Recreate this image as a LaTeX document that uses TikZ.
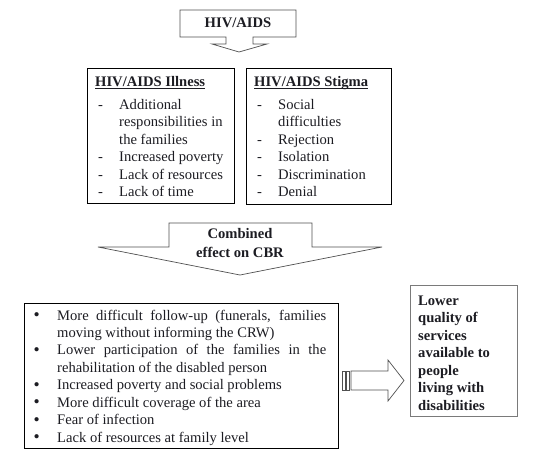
\documentclass[tikz,border=0pt]{standalone}
\usepackage{fontspec}
\setmainfont{Liberation Serif}
\definecolor{ink}{HTML}{1C1C22}
\definecolor{edgegray}{HTML}{505050}
\definecolor{lightedge}{HTML}{7A7A7A}
\begin{document}
\begin{tikzpicture}[x=1pt,y=-1pt,
  txt/.style={inner sep=0pt, anchor=base west, font=\fontsize{14.6pt}{17.5pt}\selectfont, text=ink},
  btxt/.style={txt, font=\fontsize{14.6pt}{17.5pt}\selectfont\bfseries},
  bul/.style={txt, font=\fontsize{17.5pt}{17.5pt}\selectfont},
  box/.style={draw=black, line width=0.8pt, anchor=north west, inner sep=0pt},
  blk/.style={draw=edgegray, line width=0.7pt, fill=white, line join=miter},
  ul/.style={draw=ink, line width=0.7pt}]
\useasboundingbox (0,0) rectangle (535,466);

% top arrow box
\draw[blk] (180,10) -- (296,10) -- (296,37) -- (253,37) -- (253,44) -- (267,44) -- (239,52)
  -- (212,44) -- (226,44) -- (226,37) -- (180,37) -- cycle;
\node[btxt, anchor=base] (hiv) at (238,27) {HIV/AIDS};

% two boxes
\node[box, minimum width=147pt, minimum height=135pt] (ill) at (87,68) {};
\node[box, minimum width=145pt, minimum height=136pt] (stig) at (246,68) {};

\node[btxt] (h1) at (95,86) {HIV/AIDS Illness};
\draw[ul] ([yshift=-2pt]h1.base west) -- ([yshift=-2pt]h1.base east);
\node[txt] (d11) at (98,109) {-};
\node[txt] (d12) at (98,161.5) {-};
\node[txt] (d13) at (98,179) {-};
\node[txt] (d14) at (98,196.5) {-};
\node[txt] (i1) at (119,109) {Additional};
\node[txt] (i2) at (119,126.5) {responsibilities in};
\node[txt] (i3) at (119,144) {the families};
\node[txt] (i4) at (119,161.5) {Increased poverty};
\node[txt] (i5) at (119,179) {Lack of resources};
\node[txt] (i6) at (119,196.5) {Lack of time};

\node[btxt] (h2) at (254,86) {HIV/AIDS Stigma};
\draw[ul] ([yshift=-2pt]h2.base west) -- ([yshift=-2pt]h2.base east);
\node[txt] (d21) at (257,109) {-};
\node[txt] (d22) at (257,144) {-};
\node[txt] (d23) at (257,161.5) {-};
\node[txt] (d24) at (257,179) {-};
\node[txt] (d25) at (257,196.5) {-};
\node[txt] (s1) at (278,109) {Social};
\node[txt] (s2) at (278,126.5) {difficulties};
\node[txt] (s3) at (278,144) {Rejection};
\node[txt] (s4) at (278,161.5) {Isolation};
\node[txt] (s5) at (278,179) {Discrimination};
\node[txt] (s6) at (278,196.5) {Denial};

% combined arrow
\draw[blk] (169,223) -- (312,223) -- (312,247) -- (382,247) -- (240,275) -- (98,247) -- (169,247) -- cycle;
\node[btxt, anchor=base] (c1) at (240,238) {Combined};
\node[btxt, anchor=base] (c2) at (240,257) {effect on CBR};

% bottom box
\node[box, minimum width=314pt, minimum height=145pt] (eff) at (24,303) {};
\node[bul] (b1) at (33.5,320.5) {•};
\node[bul] (b2) at (33.5,355) {•};
\node[bul] (b3) at (33.5,390) {•};
\node[bul] (b4) at (33.5,407.5) {•};
\node[bul] (b5) at (33.5,425) {•};
\node[bul] (b6) at (33.5,442.5) {•};
\node[txt] (e1) at (57,320) {\makebox[269pt][s]{More difficult follow-up (funerals, families}};
\node[txt] (e2) at (57,337.5) {moving without informing the CRW)};
\node[txt] (e3) at (57,354.5) {\makebox[269pt][s]{Lower participation of the families in the}};
\node[txt] (e4) at (57,372) {rehabilitation of the disabled person};
\node[txt] (e5) at (57,389.5) {Increased poverty and social problems};
\node[txt] (e6) at (57,407) {More difficult coverage of the area};
\node[txt] (e7) at (57,424.5) {Fear of infection};
\node[txt] (e8) at (57,442) {Lack of resources at family level};

% striped right arrow
\draw[blk] (342,371) rectangle (345,390);
\draw[blk] (346.5,371) rectangle (349.5,390);
\draw[blk] (351,371) -- (388,371) -- (388,360) -- (404,380.5) -- (388,401) -- (388,390) -- (351,390) -- cycle;

% right box
\node[box, draw=lightedge, minimum width=107pt, minimum height=131pt] (res) at (410,285) {};
\node[btxt] (r1) at (418,305) {Lower};
\node[btxt] (r2) at (418,322.5) {quality of};
\node[btxt] (r3) at (418,340) {services};
\node[btxt] (r4) at (418,357.5) {available to};
\node[btxt] (r5) at (418,375) {people};
\node[btxt] (r6) at (418,392.5) {living with};
\node[btxt] (r7) at (418,410) {disabilities};
\end{tikzpicture}
\end{document}
